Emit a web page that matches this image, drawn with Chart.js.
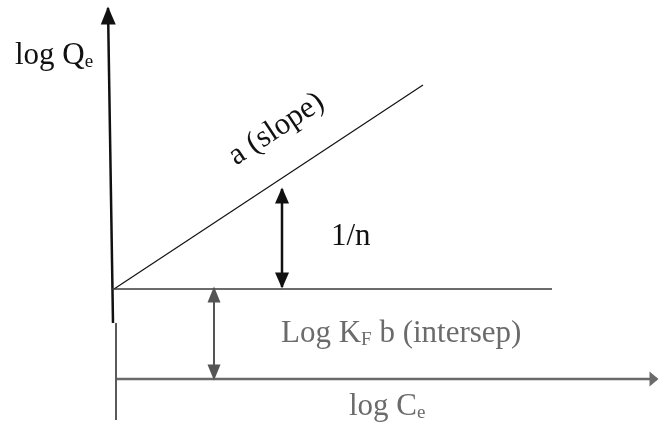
<!DOCTYPE html>
<html>
<head>
<meta charset="utf-8">
<script src="https://cdn.jsdelivr.net/npm/chart.js@4.4.0/dist/chart.umd.min.js"></script>
<style>
  html, body { margin: 0; padding: 0; background: #fff; }
  #wrap { width: 659px; height: 423px; }
</style>
</head>
<body>
<div id="wrap"><canvas id="canvasIsotherm"></canvas></div>
<script>
// diagram units: origin where the fitted line meets the intercept line, 1 unit ~ 10 px
var xRange = [-11.4, 54.5];
var yRange = [-13.4, 28.9];

var qeAxis = [{x: -0.6, y: 28.1}, {x: -0.1, y: -3.4}];
var qeAxisLow = [{x: 0.2, y: -3.4}, {x: 0.2, y: -13.1}];
var ceAxis = [{x: 0.2, y: -9.0}, {x: 54.3, y: -9.0}];
var fitLine = [{x: 0, y: 0}, {x: 30.9, y: 20.4}];
var interceptLine = [{x: -0.2, y: 0}, {x: 43.8, y: 0}];
var slopeArrow = [{x: 16.8, y: 10.0}, {x: 16.8, y: 0.2}];
var interceptArrow = [{x: 10.0, y: 0.1}, {x: 10.0, y: -9.0}];

// text labels: main text, subscript, text after subscript, anchor (diagram units)
var labelMain = ['log Q', 'a (slope)', '1/n', 'Log K', 'log C'];
var labelSub = ['e', '', '', 'F', 'e'];
var labelTail = ['', '', '', ' b (intersep)', ''];
var labelX = [-9.9, 16.7, 21.7, 16.7, 23.5];
var labelY = [22.5, 15.3, 4.4, -5.3, -12.6];
var labelGray = [false, false, false, true, true];

var black = '#111111';
var gray = '#6b6b6b';

function line(pts, color, width, arrows) {
  return {
    data: pts,
    showLine: true,
    borderColor: color,
    backgroundColor: color,
    borderWidth: width,
    pointRadius: 0,
    arrows: arrows
  };
}

function head(ctx, tip, from, len, wid, color) {
  var dx = tip.x - from.x, dy = tip.y - from.y;
  var d = Math.sqrt(dx * dx + dy * dy);
  var ux = dx / d, uy = dy / d;
  var tx = tip.x + ux * 1.5, ty = tip.y + uy * 1.5;
  var bx = tx - ux * len, by = ty - uy * len;
  ctx.fillStyle = color;
  ctx.beginPath();
  ctx.moveTo(tx, ty);
  ctx.lineTo(bx - uy * wid / 2, by + ux * wid / 2);
  ctx.lineTo(bx + uy * wid / 2, by - ux * wid / 2);
  ctx.closePath();
  ctx.fill();
}

var arrowPlugin = {
  id: 'arrowPlugin',
  afterDatasetsDraw: function(chart) {
    var ctx = chart.ctx;
    chart.data.datasets.forEach(function(ds, i) {
      if (!ds.arrows) return;
      var pts = chart.getDatasetMeta(i).data;
      var a = ds.arrows;
      ctx.save();
      if (a.start) head(ctx, pts[0], pts[1], a.len, a.wid, ds.borderColor);
      if (a.end) head(ctx, pts[pts.length - 1], pts[pts.length - 2], a.len, a.wid, ds.borderColor);
      ctx.restore();
    });
  }
};

var labelPlugin = {
  id: 'labelPlugin',
  afterDraw: function(chart) {
    var ctx = chart.ctx;
    var xs = chart.scales.x, ys = chart.scales.y;
    var big = '31px "Liberation Serif", "Times New Roman", serif';
    var small = '19px "Liberation Serif", "Times New Roman", serif';
    // angle of the fitted line on screen
    var p0 = {x: xs.getPixelForValue(fitLine[0].x), y: ys.getPixelForValue(fitLine[0].y)};
    var p1 = {x: xs.getPixelForValue(fitLine[1].x), y: ys.getPixelForValue(fitLine[1].y)};
    var ang = Math.atan2(p1.y - p0.y, p1.x - p0.x);
    for (var i = 0; i < labelMain.length; i++) {
      var px = xs.getPixelForValue(labelX[i]);
      var py = ys.getPixelForValue(labelY[i]);
      ctx.save();
      ctx.fillStyle = labelGray[i] ? gray : black;
      ctx.textBaseline = 'alphabetic';
      if (labelMain[i] === 'a (slope)') {
        ctx.translate(px, py);
        ctx.rotate(ang);
        ctx.font = big;
        ctx.textAlign = 'center';
        ctx.fillText(labelMain[i], 0, 0);
        ctx.restore();
        continue;
      }
      ctx.textAlign = 'left';
      ctx.font = big;
      ctx.fillText(labelMain[i], px, py);
      var w = ctx.measureText(labelMain[i]).width;
      if (labelSub[i]) {
        ctx.font = small;
        ctx.fillText(labelSub[i], px + w, py + 3);
        w += ctx.measureText(labelSub[i]).width;
      }
      if (labelTail[i]) {
        ctx.font = big;
        ctx.fillText(labelTail[i], px + w, py);
      }
      ctx.restore();
    }
  }
};

var ctx = document.getElementById('canvasIsotherm');

var diagram = new Chart(ctx, {
  type: 'scatter',
  data: {
    datasets: [
      line(qeAxisLow, '#5a5a5a', 2, null),
      line(ceAxis, '#6a6a6a', 2.5, {end: true, len: 9, wid: 15}),
      line(interceptArrow, '#555555', 2, {start: true, end: true, len: 16, wid: 13}),
      line(interceptLine, '#3a3a3a', 1.6, null),
      line(fitLine, black, 1.2, null),
      line(slopeArrow, black, 2.5, {start: true, end: true, len: 16, wid: 14}),
      line(qeAxis, black, 2.5, {start: true, len: 18, wid: 15})
    ]
  },
  options: {
    responsive: true,
    maintainAspectRatio: false,
    animation: false,
    layout: { padding: 0 },
    plugins: {
      legend: { display: false },
      tooltip: { enabled: false }
    },
    scales: {
      x: { type: 'linear', display: false, min: xRange[0], max: xRange[1] },
      y: { type: 'linear', display: false, min: yRange[0], max: yRange[1] }
    }
  },
  plugins: [arrowPlugin, labelPlugin]
});
</script>
</body>
</html>
